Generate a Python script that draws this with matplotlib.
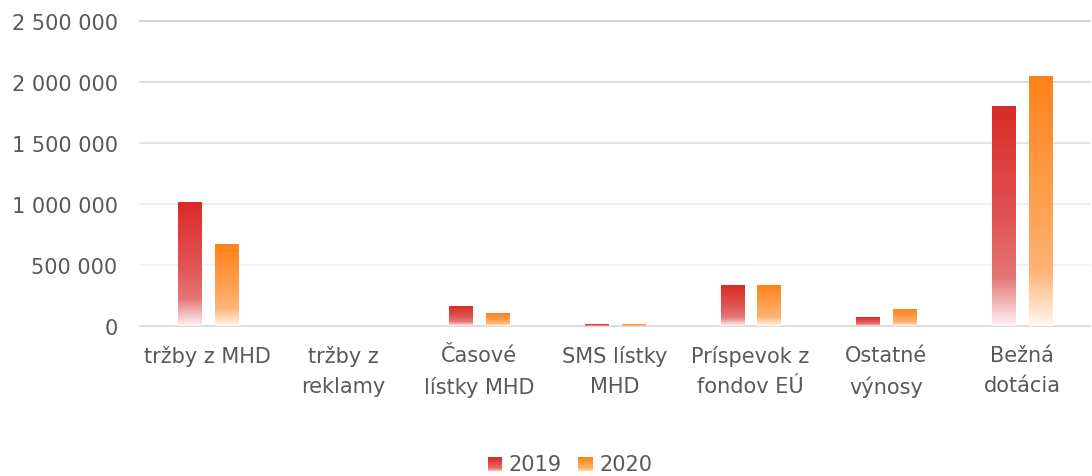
import matplotlib
matplotlib.use("Agg")
import matplotlib.pyplot as plt
import numpy as np
from matplotlib.colors import to_rgb
from matplotlib.legend_handler import HandlerBase
from matplotlib.patches import Rectangle
from matplotlib.ticker import FuncFormatter

categories = [
    "tržby z MHD",
    "tržby z\nreklamy",
    "Časové\nlístky MHD",
    "SMS lístky\nMHD",
    "Príspevok z\nfondov EÚ",
    "Ostatné\nvýnosy",
    "Bežná\ndotácia",
]
values_2019 = [1010000, 0, 162000, 16000, 330000, 72000, 1800000]
values_2020 = [665000, 0, 104000, 15000, 330000, 138000, 2048000]
series_labels = ["2019", "2020"]
y_ticks = [0, 500000, 1000000, 1500000, 2000000, 2500000]

# gradient stops (top -> bottom) for each series
GRADIENTS = {
    "2019": [(0.0, "#d92b28"), (0.5, "#e05353"), (0.78, "#e67676"), (1.0, "#fdf3f4")],
    "2020": [(0.0, "#ff8219"), (0.5, "#ffa050"), (0.78, "#ffb375"), (1.0, "#fff8f0")],
}
GRID_COLORS = ["#d9d9d9", "#f2f2f2", "#ededed", "#e3e3e3", "#d9d9d9", "#d0d0d0"]
TEXT_COLOR = "#595959"

plt.rcParams["font.family"] = ["DejaVu Sans"]


def gradient_colors(stops, n=256):
    t = np.linspace(0, 1, n)
    pos = [s[0] for s in stops]
    rgb = np.array([to_rgb(s[1]) for s in stops])
    return np.stack([np.interp(t, pos, rgb[:, k]) for k in range(3)], axis=1)


def fill_bars(ax, bars, stops):
    img = gradient_colors(stops)[:, None, :]
    for bar in bars:
        h = bar.get_height()
        if h <= 0:
            continue
        x, w = bar.get_x(), bar.get_width()
        ax.imshow(img, extent=[x, x + w, 0, h], aspect="auto", origin="upper",
                  interpolation="bilinear", zorder=3)


class GradientHandler(HandlerBase):
    def __init__(self, stops):
        super().__init__()
        self.stops = stops

    def create_artists(self, legend, orig_handle, xdescent, ydescent,
                       width, height, fontsize, trans):
        cols = gradient_colors(self.stops, 20)
        side = height * 1.0
        x0 = xdescent + width - side
        y0 = -ydescent + (height - side) / 2 - 2
        step = side / len(cols)
        arts = []
        for i, c in enumerate(cols):
            r = Rectangle((x0, y0 + side - (i + 1) * step), side, step + 0.3,
                          facecolor=c, edgecolor="none", transform=trans)
            arts.append(r)
        return arts


fig = plt.figure(figsize=(10.92, 4.77), dpi=100)
ax = fig.add_axes([0.128, 0.3145, 0.870, 0.6394])

x = np.arange(len(categories))
width = 0.17
offset = 0.136
handles = []
for vals, label, sign in [(values_2019, "2019", -1), (values_2020, "2020", 1)]:
    bars = ax.bar(x + sign * offset, vals, width, color="none", label=label, zorder=3)
    fill_bars(ax, bars, GRADIENTS[label])
    handles.append(bars)

ax.set_xlim(-0.5, len(categories) - 0.5)
ax.set_ylim(0, 2500000)
ax.set_yticks(y_ticks)
ax.yaxis.set_major_formatter(FuncFormatter(lambda v, p: f"{int(v):,}".replace(",", " ")))
ax.set_xticks(x)
ax.set_xticklabels(categories, linespacing=1.6)

for tick, col in zip(y_ticks, GRID_COLORS):
    ax.axhline(tick, color=col, linewidth=1.3, zorder=1, clip_on=False)

for s in ax.spines.values():
    s.set_visible(False)
ax.tick_params(axis="both", length=0, labelsize=15, colors=TEXT_COLOR)
ax.tick_params(axis="y", pad=16)
ax.tick_params(axis="x", pad=14)

fig.legend(handles, series_labels, loc="center", bbox_to_anchor=(0.522, 0.026),
           ncol=2, frameon=False, fontsize=15, labelcolor=TEXT_COLOR,
           handlelength=0.7, handletextpad=0.3, columnspacing=0.8,
           handler_map={handles[0]: GradientHandler(GRADIENTS["2019"]),
                        handles[1]: GradientHandler(GRADIENTS["2020"])})

fig.savefig("out.png", dpi=100)
